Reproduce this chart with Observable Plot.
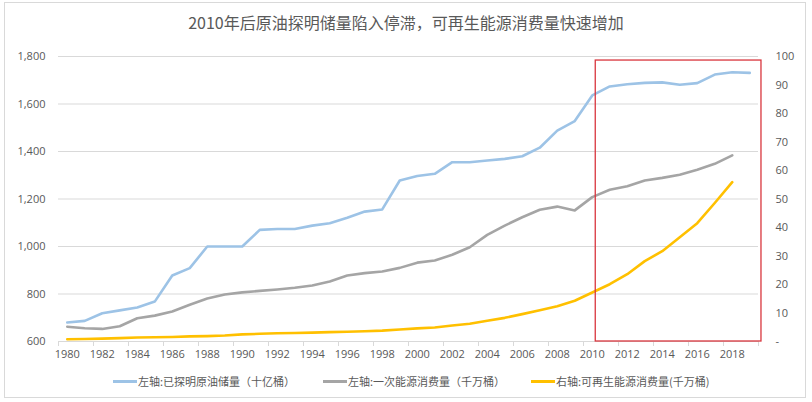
<!DOCTYPE html>
<html>
<head>
<meta charset="utf-8">
<script src="https://cdn.jsdelivr.net/npm/d3@7"></script>
<script src="https://cdn.jsdelivr.net/npm/@observablehq/plot@0.6"></script>
<style>
  html, body { margin: 0; padding: 0; background: #fff; }
  #wrap { position: relative; width: 812px; height: 402px; overflow: hidden; font-family: "Open Sans", "Noto Sans CJK SC", sans-serif; }
  #frame { position: absolute; left: 4px; top: 2px; width: 802px; height: 396px; border: 1px solid #d9d9d9; box-sizing: border-box; }
  #title { position: absolute; left: 0; width: 812px; top: 11px; text-align: center; font-size: 16px; color: #595959; font-family: "Noto Sans CJK SC", sans-serif; line-height: 22px; }
  #chart { position: absolute; left: 0; top: 40px; }
  .leg { position: absolute; top: 373px; font-size: 11px; color: #595959; font-family: "Noto Sans CJK SC", sans-serif; line-height: 16px; white-space: nowrap; }
  .sw { position: absolute; top: 380px; width: 24px; height: 3px; }
</style>
</head>
<body>
<div id="wrap">
  <div id="frame"></div>
  <div id="title"></div>
  <div id="chart"></div>
  <div id="legend"></div>
</div>
<script>
const titleText = "2010年后原油探明储量陷入停滞，可再生能源消费量快速增加";
const years = d3.range(1980, 2020);
// 左轴: 已探明原油储量（十亿桶）
const reserves = [680, 687, 719, 731, 743, 768, 878, 909, 1000, 1000,
  1000, 1070, 1074, 1074, 1088, 1098, 1121, 1147, 1156, 1278,
  1297, 1306, 1355, 1355, 1362, 1369, 1380, 1416, 1488, 1528,
  1636, 1674, 1683, 1689, 1691, 1681, 1688, 1724, 1734, 1731];
// 左轴: 一次能源消费量（千万桶）
const primary = [662, 656, 653, 664, 698, 709, 726, 755, 781, 798,
  807, 813, 819, 826, 836, 853, 878, 888, 895, 910,
  932, 941, 965, 997, 1049, 1088, 1123, 1155, 1168, 1152,
  1208, 1239, 1254, 1278, 1289, 1302, 1323, 1348, 1384];
// 右轴: 可再生能源消费量(千万桶)
const renewables = [0.8, 0.9, 1.0, 1.2, 1.4, 1.5, 1.6, 1.8, 1.9, 2.1,
  2.5, 2.7, 2.9, 3.0, 3.1, 3.3, 3.4, 3.6, 3.8, 4.2,
  4.6, 4.9, 5.6, 6.2, 7.3, 8.3, 9.6, 11.0, 12.4, 14.3,
  17.2, 20.1, 23.6, 28.2, 31.7, 36.6, 41.5, 48.6, 55.9];
const seriesNames = ["左轴:已探明原油储量（十亿桶）", "左轴:一次能源消费量（千万桶）", "右轴:可再生能源消费量(千万桶)"];
const seriesColors = ["#9dc3e6", "#a5a5a5", "#ffc000"];
const leftTicks = [600, 800, 1000, 1200, 1400, 1600, 1800];
const rightTicks = [0, 10, 20, 30, 40, 50, 60, 70, 80, 90, 100];
const rightLabels = ["-", "10", "20", "30", "40", "50", "60", "70", "80", "90", "100"];
const xLabelYears = d3.range(1980, 2020, 2);
const xTickBounds = d3.range(1979.5, 2020, 2);
// highlighted period box (years / left-axis values)
const boxX = [2010.2, 2019.67];
const boxY = [600, 1783];

// right axis mapped onto left scale: 0 -> 600, 100 -> 1800
const rightToLeft = v => 600 + v * 12;

const rowsA = years.map((y, i) => ({year: y, v: reserves[i]})).filter(d => d.v != null);
const rowsB = years.map((y, i) => ({year: y, v: primary[i]})).filter(d => d.v != null);
const rowsC = years.map((y, i) => ({year: y, v: renewables[i]})).filter(d => d.v != null);
const rightRows = rightTicks.map((t, i) => ({y: rightToLeft(t), label: rightLabels[i]}));

document.getElementById("title").textContent = titleText;

const chart = Plot.plot({
  width: 812,
  height: 330,
  marginLeft: 58,
  marginRight: 54,
  marginTop: 16,
  marginBottom: 29,
  style: {fontFamily: "'Open Sans', 'Noto Sans CJK SC', sans-serif", fontSize: "11px", color: "#595959", background: "transparent"},
  x: {domain: [1979.5, 2019.5]},
  y: {domain: [600, 1800]},
  marks: [
    Plot.ruleY(leftTicks.slice(1), {stroke: "#d9d9d9", strokeWidth: 1}),
    Plot.ruleY([600], {stroke: "#d9d9d9", strokeWidth: 1}),
    Plot.axisX({ticks: xTickBounds, tickSize: 5, tickFormat: () => "", stroke: "#d9d9d9", strokeOpacity: 1}),
    Plot.axisX({ticks: xLabelYears, tickSize: 0, tickPadding: 9, tickFormat: d => String(d), fill: "#595959", fontSize: 11}),
    Plot.axisY({ticks: leftTicks, tickSize: 0, tickPadding: 13, tickFormat: d3.format(","), fill: "#595959", fontSize: 11}),
    Plot.text(rightRows, {frameAnchor: "right", y: "y", text: "label", dx: 17, textAnchor: "start", fill: "#595959", fontSize: 11}),
    Plot.line(rowsA, {x: "year", y: "v", stroke: seriesColors[0], strokeWidth: 2.6, strokeLinejoin: "round", strokeLinecap: "round"}),
    Plot.line(rowsB, {x: "year", y: "v", stroke: seriesColors[1], strokeWidth: 2.6, strokeLinejoin: "round", strokeLinecap: "round"}),
    Plot.line(rowsC, {x: "year", y: d => rightToLeft(d.v), stroke: seriesColors[2], strokeWidth: 2.6, strokeLinejoin: "round", strokeLinecap: "round"}),
    Plot.rect([{x1: boxX[0], x2: boxX[1], y1: boxY[0], y2: boxY[1]}], {x1: "x1", x2: "x2", y1: "y1", y2: "y2", fill: "none", stroke: "#d9363e", strokeWidth: 1.3})
  ]
});
document.getElementById("chart").appendChild(chart);

// legend
const legend = document.getElementById("legend");
const legX = [113, 323, 531];
seriesNames.forEach((name, i) => {
  const sw = document.createElement("div");
  sw.className = "sw";
  sw.style.left = legX[i] + "px";
  sw.style.background = seriesColors[i];
  legend.appendChild(sw);
  const t = document.createElement("div");
  t.className = "leg";
  t.style.left = (legX[i] + 25) + "px";
  t.textContent = name;
  legend.appendChild(t);
});
</script>
</body>
</html>
